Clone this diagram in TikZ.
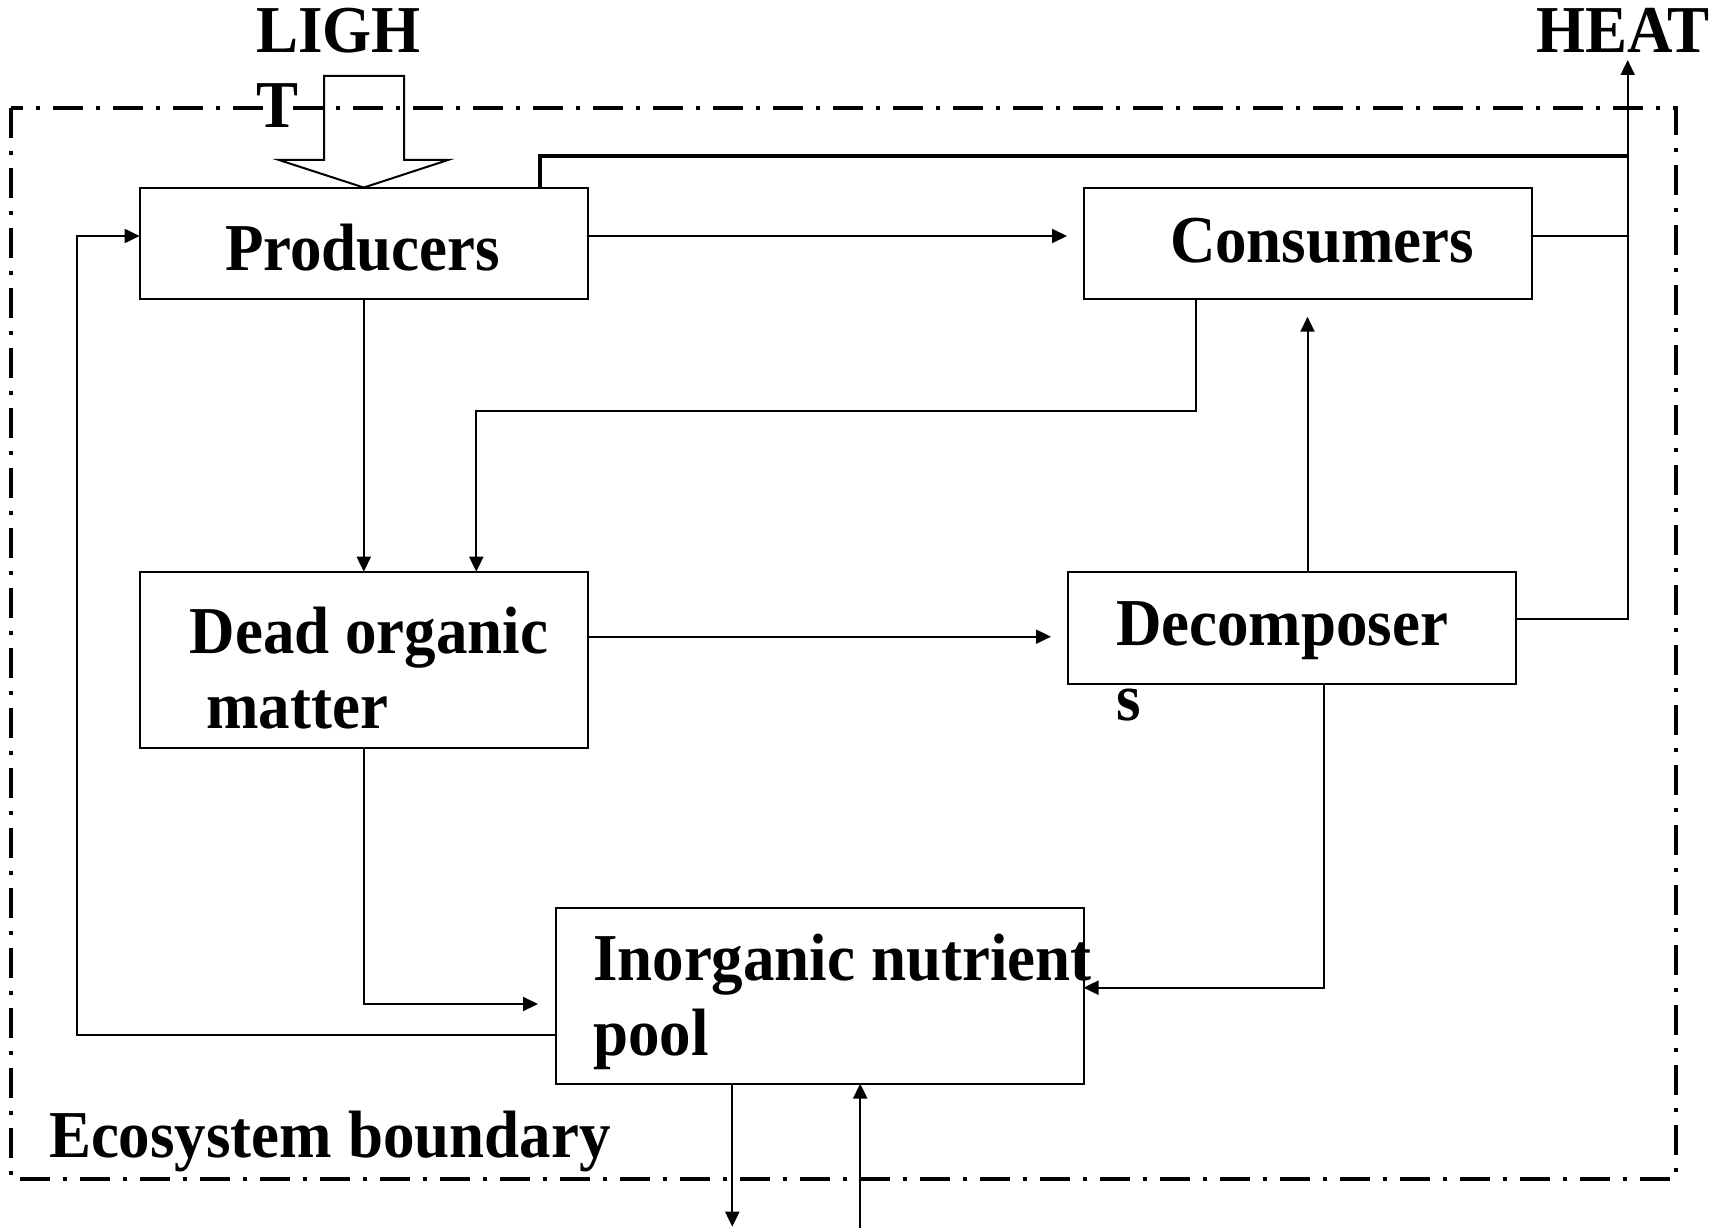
\documentclass[tikz,border=0pt]{standalone}
\usepackage{fontspec}
\setmainfont{Liberation Serif}[FakeStretch=0.94]
\usetikzlibrary{arrows.meta}
\begin{document}
\begin{tikzpicture}[x=1pt,y=-1pt,
  box/.style={draw, line width=2pt, rectangle, inner sep=0pt, outer sep=0pt},
  lbl/.style={inner sep=0pt, outer sep=0pt, anchor=base west, align=left,
    font=\fontsize{67}{75}\selectfont\bfseries},
  flow/.style={line width=2pt, -{Triangle[length=15pt,width=14pt]}},
  link/.style={line width=2pt},
  boundary/.style={line width=3.5pt, dash pattern=on 30pt off 13pt on 4pt off 13pt}]
\useasboundingbox (0,0) rectangle (1725,1228);

% ecosystem boundary
\draw[boundary] (11,108) rectangle (1676,1179);

% compartments
\node[box, minimum width=448.3pt, minimum height=111.5pt] (prod) at (363.8,243.3) {};
\node[box, minimum width=448pt, minimum height=111.3pt] (cons) at (1307.5,243.3) {};
\node[box, minimum width=448.3pt, minimum height=176.6pt] (dead) at (363.8,660) {};
\node[box, minimum width=448.4pt, minimum height=112.3pt] (decomp) at (1292.2,627.9) {};
\node[box, minimum width=528pt, minimum height=175.5pt] (inorg) at (819.5,995.8) {};

% labels (multi-line labels are placed by the baseline of their last line)
\node[lbl] (prodtxt) at (225,270) {Producers};
\node[lbl] (constxt) at (1170,262.3) {Consumers};
\node[lbl] (deadtxt) at (189.7,728.3) {Dead organic\\\hspace*{0.25em}matter};
\node[lbl] (decomptxt) at (1116,720) {Decomposer\\s};
\node[lbl] (inorgtxt) at (593,1055) {Inorganic nutrient\\pool};
\node[lbl] (ecotxt) at (49,1157) {Ecosystem boundary};
\node[lbl] (lighttxt) at (256,128) {LIGH\\T};
\node[lbl] (heattxt) at (1536,53) {HEAT};

% light input: hollow block arrow onto the producers
\draw[line width=2pt, line join=miter]
  (324,76) -- (404,76) -- (404,160) -- (448,160) -- (prod.north)
  -- (279,160) -- (324,160) -- cycle;

% heat output
\coordinate (heattop) at (1627.7,60);
\coordinate (heatcorner) at (1627.7,619.3);
\draw[line width=4pt] (prod.north -| 539.6,0) |- (1627.7,156);
\draw[link] (cons.east |- 0,235.7) -- (1627.7,235.7);
\draw[flow] (decomp.east |- heatcorner) -- (heatcorner) -- (heattop);

% energy and matter flows
\draw[flow] (prod.east |- 0,236) -- (1067,236);
\draw[flow] (inorg.west |- 0,1035) -| (76.5,236) -- (prod.west |- 0,236);
\draw[flow] (prod.south) -- (dead.north);
\draw[flow] (cons.south -| 1196,0) |- (476.3,411.4) -- (dead.north -| 476.3,0);
\draw[flow] (dead.east |- 0,636.7) -- (1051,636.7);
\draw[flow] (decomp.north -| 1307.5,0) -- (1307.5,316.7);
\draw[flow] (dead.south) |- (538,1004);
\draw[flow] (decomp.south -| 1323.6,0) |- (inorg.east |- 0,987.7);

% exchange across the boundary
\coordinate (leach) at (732.3,1226.7);
\coordinate (supply) at (860.2,1228);
\draw[flow] (inorg.south -| leach) -- (leach);
\draw[flow] (supply) -- (inorg.south -| supply);
\end{tikzpicture}
\end{document}
